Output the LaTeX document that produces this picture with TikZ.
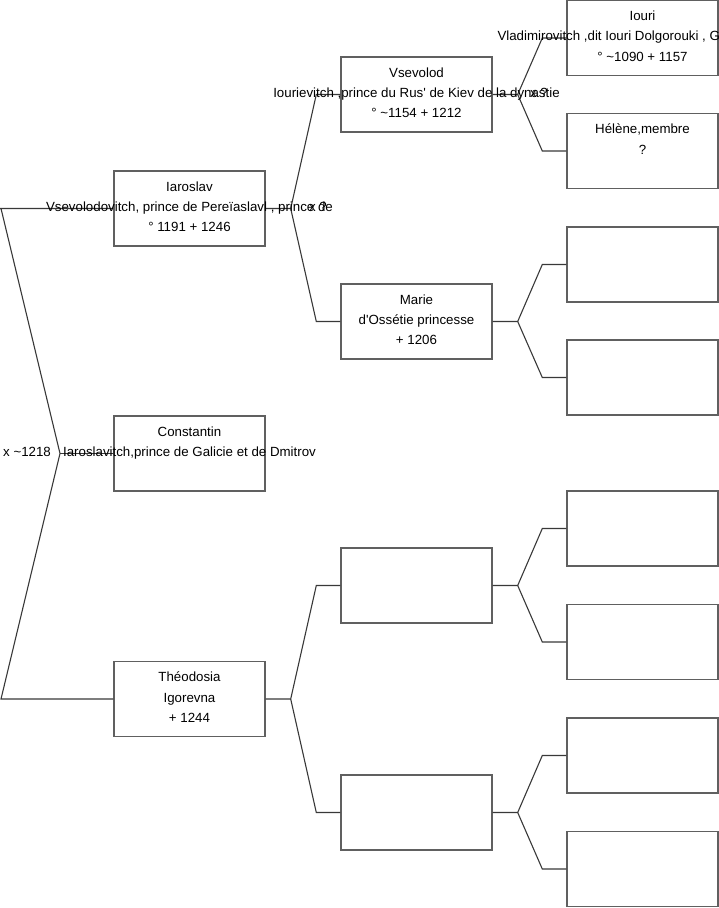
\documentclass[tikz,border=0pt]{standalone}
\usepackage{fontspec}
\setmainfont{Liberation Sans}
\usetikzlibrary{calc}

\tikzset{
	person/.style={draw=gray!75!black, line width=1.4pt, minimum width=151pt,
		minimum height=75pt, inner sep=0pt},
	pertext/.style={anchor=north, align=center, inner sep=0pt,
		font=\fontsize{13.3}{20.3}\selectfont},
	branch/.style={draw=gray!45!black, line width=1.1pt},
	marriage/.style={inner sep=0pt, font=\fontsize{13.3}{20.3}\selectfont}
}

\begin{document}
\begin{tikzpicture}[
		x=1pt,
		y=-1pt,
		line cap=butt,
		line join=miter
		]
		
		\useasboundingbox (0,0) rectangle (719,908);
		\clip (0,0) rectangle (719,908);
		
		%------------------------------------------------------------------
		% Boxes
		%------------------------------------------------------------------
		% generation 1
		\node[person] (ia)  at (189.5,208.5) {};
		\node[person] (co)  at (189.5,453.5) {};
		\node[person] (th)  at (189.5,699.0) {};
		
		% generation 2
		\node[person] (vs)  at (416.5, 94.5) {};
		\node[person] (ma)  at (416.5,321.5) {};
		\node[person] (e21) at (416.5,585.5) {};
		\node[person] (e22) at (416.5,812.5) {};
		
		% generation 3
		\node[person] (io)  at (642.5, 38.0) {};
		\node[person] (he)  at (642.5,151.0) {};
		\node[person] (e31) at (642.5,264.5) {};
		\node[person] (e32) at (642.5,377.5) {};
		\node[person] (e33) at (642.5,528.5) {};
		\node[person] (e34) at (642.5,642.0) {};
		\node[person] (e35) at (642.5,755.5) {};
		\node[person] (e36) at (642.5,869.0) {};
		
		%------------------------------------------------------------------
		% Root fork
		%------------------------------------------------------------------
		\coordinate (rTop)  at (1,208.5);
		\coordinate (rFork) at (60,453.5);
		\coordinate (rBot)  at (1,699.0);
		
		\draw[branch] (ia.west) -- (0,208.5) -- (rTop) -- (rFork) -- (rBot) -- (th.west);
		\draw[branch] (rFork) -- (co.west);
		
		%------------------------------------------------------------------
		% Forks to the next generation
		%------------------------------------------------------------------
		\foreach \p/\a/\b in {ia/vs/ma, th/e21/e22, vs/io/he,
			ma/e31/e32, e21/e33/e34, e22/e35/e36}{
			\draw[branch] (\p.east) -- ++(25,0) coordinate (\p-f)
			-- ([xshift=-24pt]\a.west) -- (\a.west);
			\draw[branch] (\p-f) -- ([xshift=-24pt]\b.west) -- (\b.west);
		}
		
		%------------------------------------------------------------------
		% Names
		%------------------------------------------------------------------
		\node[pertext] (ia-t) at ([yshift=-11pt]ia.north)
		{Iaroslav\\Vsevolodovitch, prince de Pereïaslavl , prince de\\° 1191 + 1246};
		\node[pertext] (co-t) at ([yshift=-11pt]co.north)
		{Constantin\\Iaroslavitch,prince de Galicie et de Dmitrov};
		\node[pertext] (th-t) at ([yshift=-11pt]th.north)
		{Théodosia\\Igorevna\\+ 1244};
		
		\node[pertext] (vs-t) at ([yshift=-11pt]vs.north)
		{Vsevolod\\Iourievitch ,prince du Rus\textquotesingle{} de Kiev de la dynastie\\° \textasciitilde1154 + 1212};
		\node[pertext] (ma-t) at ([yshift=-11pt]ma.north)
		{Marie\\d\textquotesingle Ossétie princesse\\+ 1206};
		
		\node[pertext] (io-t) at ([yshift=-11pt]io.north)
		{Iouri\\\makebox[290pt][l]{Vladimirovitch ,dit Iouri Dolgorouki , G}\\° \textasciitilde1090 + 1157};
		\node[pertext] (he-t) at ([yshift=-11pt]he.north)
		{Hélène,membre\\?};
		
		%------------------------------------------------------------------
		% Unions
		%------------------------------------------------------------------
		\node[marriage, anchor=west] (m-root) at (3,452) {x \textasciitilde1218};
		\node[marriage] (m-ia) at (318,207) {x ?};
		\node[marriage] (m-vs) at (539,93) {x ?};
		
	\end{tikzpicture}
\end{document}
